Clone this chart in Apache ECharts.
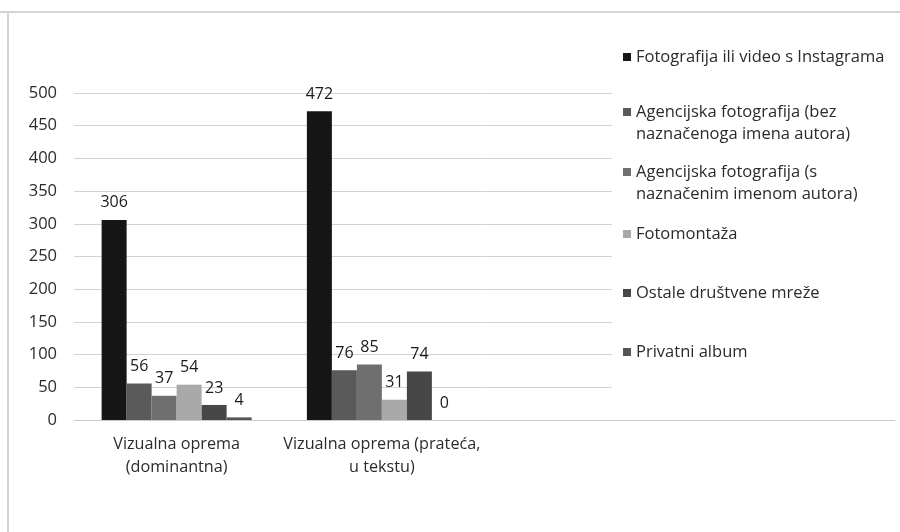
<!DOCTYPE html>
<html>
<head>
<meta charset="utf-8">
<script src="https://cdn.jsdelivr.net/npm/echarts@6/dist/echarts.min.js"></script>
<style>
html,body{margin:0;padding:0;background:#fff;}
#chart{width:900px;height:532px;}
</style>
</head>
<body>
<div id="chart"></div>
<script>
const categories = ['Vizualna oprema\n(dominantna)', 'Vizualna oprema (prateća,\nu tekstu)', '', ''];
const seriesNames = [
  'Fotografija ili video s Instagrama',
  'Agencijska fotografija (bez\nnaznačenoga imena autora)',
  'Agencijska fotografija (s\nnaznačenim imenom autora)',
  'Fotomontaža',
  'Ostale društvene mreže',
  'Privatni album'
];
const instagram = [306, 472, null, null];
const agencijaBez = [56, 76, null, null];
const agencijaS = [37, 85, null, null];
const fotomontaza = [54, 31, null, null];
const ostaleMreze = [23, 74, null, null];
const privatniAlbum = [4, 0, null, null];
const yTicks = [0, 50, 100, 150, 200, 250, 300, 350, 400, 450, 500];

const seriesData = [instagram, agencijaBez, agencijaS, fotomontaza, ostaleMreze, privatniAlbum];
const colors = ['#161616', '#5a5a5a', '#6f6f6f', '#a9a9a9', '#474747', '#545454'];
const FONT = 'Open Sans';

const chart = echarts.init(document.getElementById('chart'), null, {renderer: 'canvas'});

const legendTops = [46, 101, 161, 223, 282, 341];
const tallIcon = 'path://M0,0L8,0L8,8L0,8ZM0,29.9L0,30';
const legends = seriesNames.map((name, i) => {
  const two = name.indexOf('\n') >= 0;
  return {
    show: true,
    orient: 'vertical',
    left: 623,
    top: legendTops[i],
    padding: 0,
    itemWidth: 8,
    itemHeight: two ? 30 : 8,
    icon: two ? tallIcon : 'rect',
    selectedMode: false,
    data: [name],
    textStyle: {fontFamily: FONT, fontSize: 16.5, color: '#2b2b2b', lineHeight: 22},
    z: 5
  };
});

chart.setOption({
  animation: false,
  color: colors,
  graphic: [
    {type: 'line', z: -10, silent: true, shape: {x1: 0, y1: 12, x2: 900, y2: 12},
     style: {stroke: '#d4d4d4', lineWidth: 2}},
    {type: 'line', z: -10, silent: true, shape: {x1: 8, y1: 11, x2: 8, y2: 532},
     style: {stroke: '#d4d4d4', lineWidth: 2}},
    {type: 'rect', z: 3, silent: true, shape: {x: 612, y: 20, width: 300, height: 388},
     style: {fill: '#fff'}}
  ],
  legend: legends,
  grid: {left: 74, right: 5, top: 93, bottom: 112, containLabel: false},
  xAxis: {
    type: 'category',
    data: categories,
    axisLine: {show: true, lineStyle: {color: '#c9c9c9', width: 1}},
    axisTick: {show: false},
    axisLabel: {fontFamily: FONT, fontSize: 16.2, color: '#2b2b2b', lineHeight: 23, margin: 13, interval: 0}
  },
  yAxis: {
    type: 'value',
    min: yTicks[0],
    max: yTicks[yTicks.length - 1],
    interval: 50,
    axisLine: {show: false},
    axisTick: {show: false},
    splitLine: {lineStyle: {color: '#d2d2d2', width: 1}},
    axisLabel: {fontFamily: FONT, fontSize: 16.5, color: '#2b2b2b', margin: 17}
  },
  series: seriesData.map((d, i) => ({
    name: seriesNames[i],
    type: 'bar',
    data: d,
    barWidth: 25,
    barGap: '0%',
    z: 2,
    itemStyle: {color: colors[i]},
    label: {show: true, position: 'top', distance: 9, fontFamily: FONT, fontSize: 16, color: '#1a1a1a'}
  }))
});
</script>
</body>
</html>
